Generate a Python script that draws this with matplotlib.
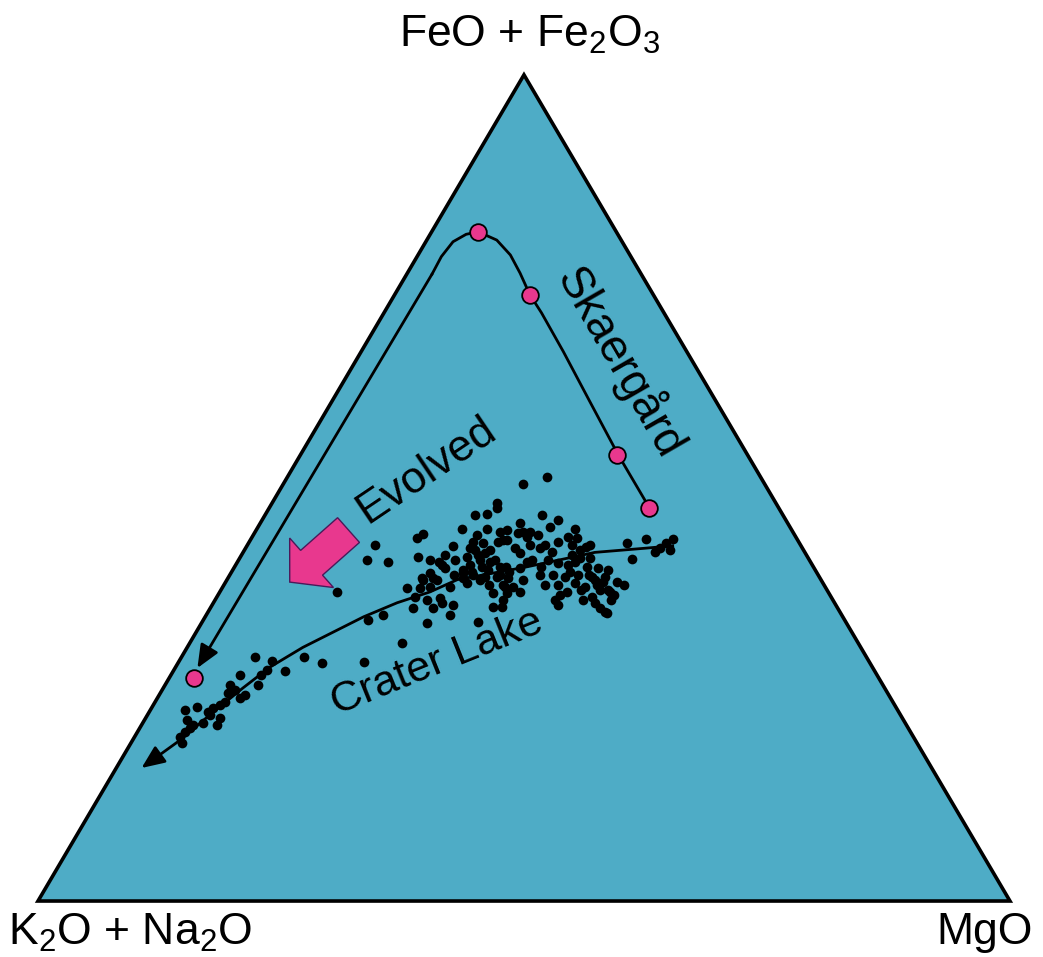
import numpy as np
import matplotlib
matplotlib.use("Agg")
import matplotlib.pyplot as plt
from matplotlib.patches import Polygon, FancyArrow

plt.rcParams['font.family'] = ['Liberation Sans', 'DejaVu Sans']
plt.rcParams['mathtext.default'] = 'regular'

# AFM ternary data, in percent: F = FeO + Fe2O3, M = MgO (A = rest)
# Crater Lake lavas
crater_F = [29.5, 29.1, 29.5, 28.8, 27.8, 27.4, 27.4, 28.0, 26.1, 26.1, 25.5, 24.9, 24.6, 24.1, 23.7,
            23.4, 23.5, 23.1, 22.5, 22.2, 21.9, 21.3, 21.6, 21.3, 20.5, 19.9, 19.1, 20.9, 22.9, 25.2,
            28.9, 31.2, 34.0, 34.6, 33.7, 34.6, 33.8, 37.4, 43.1, 41.3, 41.0, 37.9, 43.9, 44.4,
            41.6, 41.3, 41.0, 43.0, 40.3, 39.7, 39.1, 39.1, 39.7, 39.5, 39.2, 38.5, 37.9, 38.0, 38.0,
            36.8, 36.4, 36.1, 35.8, 35.5, 35.5, 37.3, 36.4, 35.6, 38.0,
            48.2, 47.6, 46.7, 46.8, 45.0, 45.0, 44.7, 45.7, 44.7, 44.3, 43.5, 43.3, 43.5, 43.7, 44.1,
            42.5, 42.1, 41.6, 41.3, 41.0, 40.7, 41.0, 40.3, 40.4, 39.8, 40.1, 39.8, 40.1, 39.2, 39.5,
            39.1, 38.9, 38.9, 38.9, 38.9, 38.3, 38.0, 37.3, 36.7, 37.4,
            50.5, 51.3, 46.7, 46.1, 45.3, 45.0, 44.7, 44.3, 44.1, 43.9, 43.5, 42.9, 42.7, 42.2, 43.3,
            41.4, 41.3, 41.9, 41.5, 41.5, 40.4, 40.9, 40.7, 40.4, 40.3, 40.1, 39.5, 39.2, 39.5, 39.2,
            39.2, 38.6, 38.3, 38.3, 38.3, 38.5, 38.0, 38.3, 37.6, 37.0, 37.4, 37.6, 36.4, 36.4, 36.8,
            36.1, 35.5, 35.8, 35.0,
            44.9, 44.5, 43.7, 43.8, 43.8, 43.3, 42.7, 42.5, 42.2, 42.1, 40.4, 39.1, 35.6, 34.9, 38.6, 37.4,
            42.7, 41.9, 42.5, 41.3, 40.4, 40.7, 39.5, 38.3, 43.1, 42.5, 43.1, 41.0, 39.5, 38.9, 39.8,
            43.1, 41.3, 39.5, 37.6, 36.4, 37.0, 43.1, 42.7, 41.3, 41.9]
crater_M = [7.6, 9.5, 12.6, 14.8, 11.5, 7.1, 9.2, 9.6, 9.6, 6.7, 7.5, 8.8, 8.5, 7.2, 6.9,
            6.3, 4.6, 3.6, 6.4, 7.6, 4.4, 5.3, 6.2, 7.8, 4.9, 4.7, 5.3, 5.2, 6.0, 6.9,
            19.1, 21.9, 17.0, 18.2, 23.2, 25.1, 28.4, 12.1, 13.1, 13.2, 15.5, 19.0, 17.0, 17.4,
            18.3, 19.7, 20.8, 21.2, 21.7, 20.5, 20.0, 21.1, 23.9, 25.0, 26.4, 24.9, 20.4, 21.3, 23.4,
            20.4, 21.8, 23.5, 24.8, 20.8, 22.9, 28.2, 29.6, 29.0, 29.0,
            23.1, 23.4, 21.6, 22.8, 21.1, 23.7, 25.2, 26.7, 27.5, 23.0, 23.0, 24.1, 25.6, 26.4, 28.3,
            23.7, 24.9, 23.3, 24.8, 26.0, 21.2, 29.8, 29.4, 27.3, 28.6, 23.7, 24.8, 26.2, 27.6, 23.0,
            24.2, 21.6, 20.2, 26.0, 30.5, 28.7, 29.9, 29.6, 23.0, 30.9,
            24.7, 26.7, 28.5, 30.4, 30.0, 32.7, 28.3, 29.3, 32.5, 33.5, 31.8, 34.9, 30.3, 31.8, 39.0,
            40.4, 30.2, 34.0, 35.0, 36.0, 31.6, 33.0, 34.2, 36.3, 37.5, 38.6, 33.2, 34.6, 35.8, 37.4,
            38.7, 40.3, 41.1, 33.0, 34.4, 36.0, 37.3, 38.4, 39.8, 40.8, 35.7, 37.1, 35.0, 37.9, 38.6,
            39.3, 40.1, 35.6, 40.8,
            25.8, 27.1, 26.0, 40.7, 43.4, 43.0, 42.6, 43.8, 42.4, 28.5, 28.0, 28.8, 29.9, 41.1, 38.8, 40.2,
            23.1, 24.3, 25.3, 26.4, 25.5, 24.1, 27.8, 27.2, 33.4, 34.5, 35.2, 34.7, 36.9, 37.9, 34.8,
            30.6, 31.8, 31.9, 39.0, 40.8, 35.2, 29.1, 27.7, 22.3, 20.9]

# Crater Lake trend
trend_F = [43.0, 42.7, 42.2, 40.4, 38.9, 37.4, 36.1, 34.4, 30.7, 28.3, 25.8, 22.5, 19.5, 16.1]
trend_M = [43.8, 41.1, 36.2, 29.9, 23.7, 21.6, 18.9, 16.3, 11.9, 9.7, 8.2, 6.4, 4.9, 2.6]

# Skaergard liquid line of descent
skaer_F = [47.6, 54.0, 60.4, 66.5, 71.2, 73.4, 76.0, 78.2, 80.0, 81.0, 80.7, 79.8, 78.0, 75.9, 28.2]
skaer_M = [39.1, 32.7, 26.6, 20.8, 16.2, 13.9, 11.6, 9.5, 7.2, 4.8, 3.7, 2.8, 2.5, 2.6, 2.3]
skaer_pts_F = [81.0, 73.4, 54.0, 47.6, 27.0]
skaer_pts_M = [4.8, 13.9, 32.6, 39.1, 2.5]

H = 0.85  # triangle height relative to base


def tern(F, M):
    F = np.asarray(F, dtype=float) / 100.0
    M = np.asarray(M, dtype=float) / 100.0
    return M + F / 2, F * H


fig = plt.figure(figsize=(10.43, 9.57), dpi=100)
ax = fig.add_axes([0, 0, 1, 1])
ax.set_xlim(-0.0391, 1.0340)
ax.set_ylim(-0.0576, 0.9270)
ax.axis('off')

blue = '#4EACC6'
pink = '#E8388E'

tri = Polygon([(0, 0), (1, 0), (0.5, H)], closed=True, fc=blue, ec='black', lw=2.6, zorder=1)
ax.add_patch(tri)

arrow_kw = dict(arrowstyle='-|>,head_length=0.7,head_width=0.3', color='black', lw=2,
                mutation_scale=20, shrinkA=0, shrinkB=0)

# Crater Lake trend line
tx, ty = tern(trend_F, trend_M)
ax.plot(tx[:-1], ty[:-1], color='black', lw=2, zorder=3, solid_joinstyle='round')
ax.annotate('', xy=(tx[-1], ty[-1]), xytext=(tx[-2], ty[-2]), arrowprops=arrow_kw, zorder=3)

# Crater Lake samples
cx, cy = tern(crater_F, crater_M)
ax.plot(cx, cy, 'o', color='black', ms=7, mec='none', zorder=4)

# Skaergard line
sx, sy = tern(skaer_F, skaer_M)
ax.plot(sx[:-1], sy[:-1], color='black', lw=2, zorder=3, solid_joinstyle='round')
ax.annotate('', xy=(sx[-1], sy[-1]), xytext=(sx[-2], sy[-2]), arrowprops=arrow_kw, zorder=3)
px_, py_ = tern(skaer_pts_F, skaer_pts_M)
ax.plot(px_, py_, 'o', color=pink, ms=12, mec='black', mew=1.3, zorder=5)

# "Evolved" arrow
ax0, ay0 = tern(44.9, 9.5)
ax1, ay1 = tern(38.6, 6.6)
ax.add_patch(FancyArrow(float(ax0), float(ay0), float(ax1 - ax0), float(ay1 - ay0),
                        width=0.034, head_width=0.068, head_length=0.03,
                        length_includes_head=True, fc=pink, ec='#4a1a5a', lw=1, zorder=4))

# labels
x, y = tern(65.2, 27.4)
ax.text(x, y, 'Skaergård', rotation=-60, ha='center', va='center', fontsize=33,
        rotation_mode='anchor', zorder=6)
x, y = tern(52.2, 13.9)
ax.text(x, y, 'Evolved', rotation=34, ha='center', va='center', fontsize=32,
        rotation_mode='anchor', zorder=6)
x, y = tern(28.9, 26.6)
ax.text(x, y, 'Crater Lake', rotation=22, ha='center', va='center', fontsize=31,
        rotation_mode='anchor', zorder=6)

ax.text(0.506, 0.8786, 'FeO + Fe$_2$O$_3$', ha='center', va='baseline', fontsize=32)
ax.text(0.0947, -0.0453, 'K$_2$O + Na$_2$O', ha='center', va='baseline', fontsize=32)
ax.text(0.974, -0.0445, 'MgO', ha='center', va='baseline', fontsize=32)

fig.savefig('out.png', dpi=100, facecolor='white')
